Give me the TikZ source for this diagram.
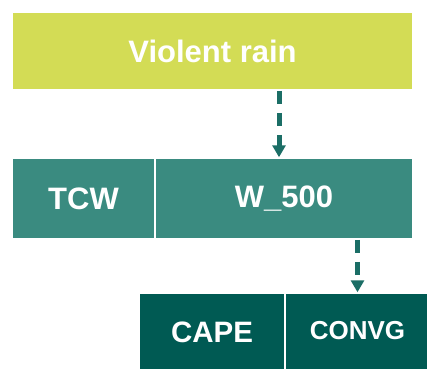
\documentclass[tikz,border=0pt]{standalone}
\usepackage{fontspec}
\setmainfont{Liberation Sans}
\usetikzlibrary{arrows.meta}
\definecolor{limeg}{HTML}{D3DC55}
\definecolor{tealmid}{HTML}{3A8B80}
\definecolor{tealdark}{HTML}{005A53}
\definecolor{arrowc}{HTML}{1B6E66}
\tikzset{
  box/.style={rectangle, draw=white, line width=1.5pt, inner sep=0pt, text=white, font=\bfseries\fontsize{31}{32}\selectfont},
  dasharrow/.style={draw=arrowc, line width=5pt, dash pattern=on 13pt off 9pt, -{Triangle[width=13pt,length=12pt]}}
}
\begin{document}
\begin{tikzpicture}[x=1pt,y=-1pt]
\useasboundingbox (0,0) rectangle (427,368);
\clip (0,0) rectangle (427,368);
\node[box, fill=limeg, minimum width=401pt, minimum height=78pt] (rain) at (212.5,51) {\raisebox{-1pt}{Violent rain}};
\node[box, fill=tealmid, minimum width=143pt, minimum height=81pt] (tcw) at (83.5,198.5) {\raisebox{-1pt}{TCW}};
\node[box, fill=tealmid, minimum width=258pt, minimum height=81pt] (w500) at (284,198.5) {\raisebox{-1pt}{W\_500}};
\node[box, fill=tealdark, minimum width=146pt, minimum height=80pt, font=\bfseries\fontsize{29.5}{30}\selectfont] (cape) at (212,333) {\raisebox{2pt}{CAPE}};
\node[box, fill=tealdark, minimum width=145pt, minimum height=80pt, font=\bfseries\fontsize{26}{27}\selectfont] (convg) at (357.5,333) {\raisebox{5pt}{CONVG}};
\draw[dasharrow] ([xshift=66.5pt]rain.south) -- ([xshift=-5pt]w500.north);
\draw[dasharrow] (w500.south -| convg.north) -- (convg.north);
\end{tikzpicture}
\end{document}
